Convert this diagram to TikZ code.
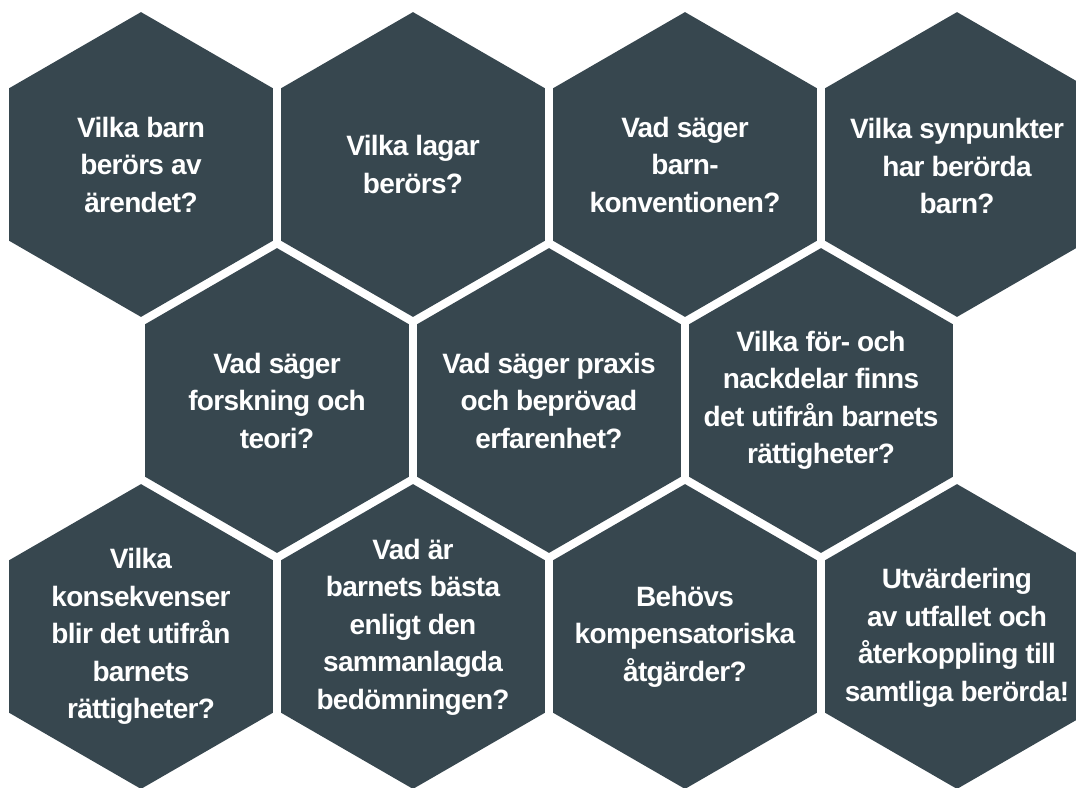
\documentclass[tikz,border=0pt]{standalone}
\usepackage{fontspec}
\setmainfont{Liberation Sans}[LetterSpace=-2.5]
\usetikzlibrary{shapes.geometric}
\definecolor{slate}{HTML}{37474F}
\tikzset{
  hexbox/.style={regular polygon, regular polygon sides=6, shape border rotate=30,
    minimum size=304.8pt, inner sep=0pt, outer sep=0pt, fill=slate, draw=none},
  hextext/.style={text=white, align=center, inner sep=0pt,
    font=\fontsize{28}{37.5}\selectfont\bfseries}
}
\begin{document}
\begin{tikzpicture}[x=1pt,y=-1pt]
\useasboundingbox (0,0) rectangle (1076,787);
\clip (0,0) rectangle (1076,787);
% row 1
\node[hexbox] (h1) at (141,164.5) {};
\node[hextext] (t1) at (h1) {Vilka barn\\berörs av\\ärendet?};
\node[hexbox] (h2) at (413,164.5) {};
\node[hextext] (t2) at (h2) {Vilka lagar\\berörs?};
\node[hexbox] (h3) at (685,164.5) {};
\node[hextext] (t3) at (h3) {Vad säger\\barn-\\konventionen?};
\node[hexbox] (h4) at (957,164.5) {};
\node[hextext] (t4) at (957,166) {Vilka synpunkter\\har berörda\\barn?};
% row 2
\node[hexbox] (h5) at (277,400.5) {};
\node[hextext] (t5) at (h5) {Vad säger\\forskning och\\teori?};
\node[hexbox] (h6) at (549,400.5) {};
\node[hextext] (t6) at (h6) {Vad säger praxis\\och beprövad\\erfarenhet?};
\node[hexbox] (h7) at (821,400.5) {};
\node[hextext] (t7) at (h7) {Vilka för- och\\nackdelar finns\\det utifrån barnets\\rättigheter?};
% row 3
\node[hexbox] (h8) at (141,636.5) {};
\node[hextext] (t8) at (h8) {Vilka\\konsekvenser\\blir det utifrån\\barnets\\rättigheter?};
\node[hexbox] (h9) at (413,636.5) {};
\node[hextext] (t9) at (413,627) {Vad är\\barnets bästa\\enligt den\\sammanlagda\\bedömningen?};
\node[hexbox] (h10) at (685,636.5) {};
\node[hextext] (t10) at (h10) {Behövs\\kompensatoriska\\åtgärder?};
\node[hexbox] (h11) at (957,636.5) {};
\node[hextext] (t11) at (957,638) {Utvärdering\\av utfallet och\\återkoppling till\\samtliga berörda!};
\end{tikzpicture}
\end{document}
